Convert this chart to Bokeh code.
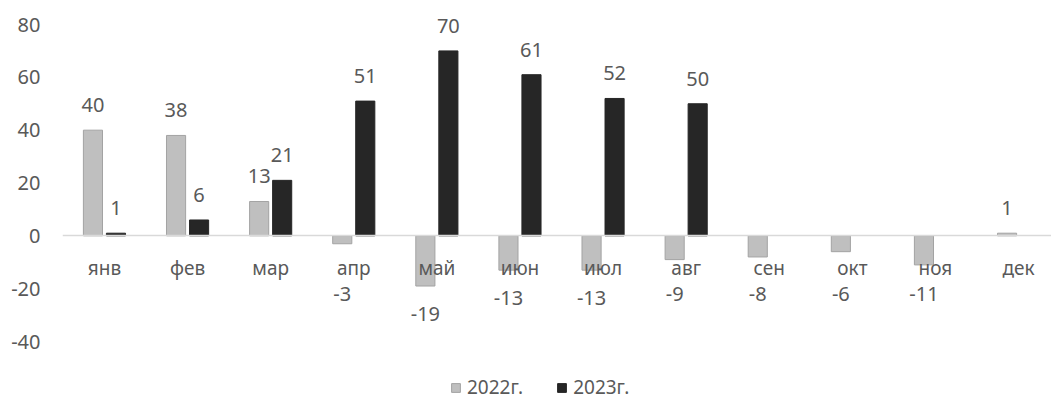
import numpy as np
from bokeh.plotting import figure
from bokeh.models import (ColumnDataSource, Range1d, FixedTicker, Legend, LegendItem)
from bokeh.core.properties import value
from bokeh.embed import file_html
from bokeh.resources import INLINE

months = ["янв", "фев", "мар", "апр", "май", "июн", "июл", "авг", "сен", "окт", "ноя", "дек"]
v2022 = [40, 38, 13, -3, -19, -13, -13, -9, -8, -6, -11, 1]
v2023 = [1, 6, 21, 51, 70, 61, 52, 50, None, None, None, None]
y_ticks = [-40, -20, 0, 20, 40, 60, 80]
series_names = ["2022г.", "2023г."]

FONT = "Noto Sans"
TXT = "#595959"
C22, C22L = "#bfbfbf", "#a3a3a3"
C23 = "#262626"

W, H = 1051, 400
LEFT = 62
PX_PER_UNIT = 317 / 120.0
y_end = 80 + 24 / PX_PER_UNIT
y_start = y_end - H / PX_PER_UNIT
frame_w = W - LEFT
cat_px = 83.1
x_start = -0.505
x_end = x_start + frame_w / cat_px

p = figure(width=W, height=H, output_backend="svg", toolbar_location=None,
           x_range=Range1d(x_start, x_end), y_range=Range1d(y_start, y_end),
           min_border_left=LEFT, min_border_top=0, min_border_right=0, min_border_bottom=0)
p.outline_line_color = None
p.xgrid.visible = False
p.ygrid.visible = False
p.background_fill_color = "white"
p.border_fill_color = "white"

bw = 0.23
off = 0.1385
idx = np.arange(len(months))

s22 = ColumnDataSource(dict(x=idx - off, top=v2022))
s23 = ColumnDataSource(dict(x=[i + off for i, v in zip(idx, v2023) if v is not None],
                            top=[v for v in v2023 if v is not None]))
r22 = p.vbar(x="x", top="top", bottom=0, width=bw, source=s22, fill_color=C22, line_color=C22L, line_width=1)
r23 = p.vbar(x="x", top="top", bottom=0, width=bw, source=s23, fill_color=C23, line_color=C23, line_width=1)

def label_y(v):
    if v >= 0:
        return v + 25 / PX_PER_UNIT
    return min(v - 10.5, -22.0)

lx, ly, lt = [], [], []
for xs, vals in ((idx - off, v2022), (idx + off, v2023)):
    for xv, v in zip(xs, vals):
        if v is None:
            continue
        lx.append(float(xv)); ly.append(label_y(v)); lt.append(str(v))
ls = ColumnDataSource(dict(x=lx, y=ly, t=lt))
p.text(x="x", y="y", text="t", source=ls, text_align="center", text_baseline="middle",
       text_font=value(FONT), text_font_size="20px", text_color=TXT)

# y axis
ya = p.yaxis[0]
ya.ticker = FixedTicker(ticks=y_ticks)
ya.major_label_overrides = {t: str(t) for t in y_ticks}
ya.axis_line_color = None
ya.major_tick_line_color = None
ya.minor_tick_line_color = None
ya.major_label_text_font = FONT
ya.major_label_text_font_size = "20px"
ya.major_label_text_color = TXT
ya.major_label_standoff = 16

# x axis at zero
xa = p.xaxis[0]
xa.fixed_location = 0
xa.ticker = FixedTicker(ticks=list(range(len(months))))
xa.major_label_overrides = {i: m for i, m in enumerate(months)}
xa.axis_line_color = "#d9d9d9"
xa.axis_line_width = 1.5
xa.major_tick_line_color = None
xa.minor_tick_line_color = None
xa.major_label_text_font = FONT
xa.major_label_text_font_size = "19px"
xa.major_label_text_color = TXT
xa.major_label_standoff = 13

legend = Legend(items=[LegendItem(label=series_names[0], renderers=[r22]),
                       LegendItem(label=series_names[1], renderers=[r23])],
                location=(388, 0), orientation="horizontal",
                padding=0, margin=0, spacing=33, label_standoff=6,
                glyph_width=11, glyph_height=11,
                label_text_font=FONT, label_text_font_size="19px", label_text_color=TXT,
                border_line_color=None, background_fill_alpha=0)
p.add_layout(legend, "center")

open("out.html", "w").write(file_html(p, INLINE))
